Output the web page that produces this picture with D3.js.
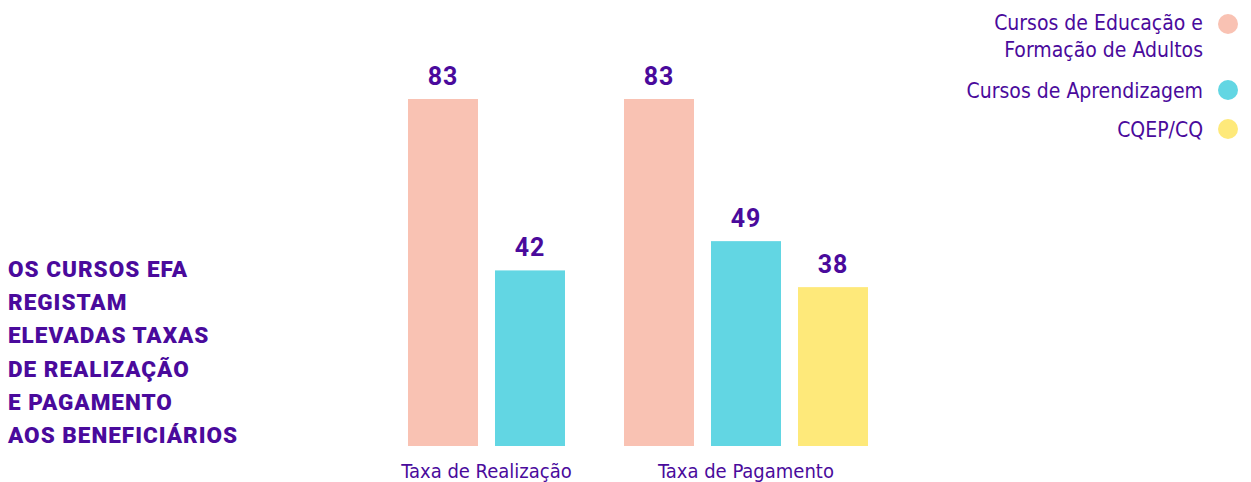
<!DOCTYPE html>
<html><head><meta charset="utf-8">
<script src="https://cdn.jsdelivr.net/npm/d3@7"></script>
<style>
body{margin:0;background:#fff;}
svg{display:block;}
</style></head>
<body>
<svg id="c" width="1251" height="482"></svg>
<script>
const groups = ["Taxa de Realização", "Taxa de Pagamento"];
const seriesNames = ["Cursos de Educação e Formação de Adultos", "Cursos de Aprendizagem", "CQEP/CQ"];
const legendLines = [["Cursos de Educação e", "Formação de Adultos"], ["Cursos de Aprendizagem"], ["CQEP/CQ"]];
const seriesColors = ["#f9c2b3", "#62d6e3", "#fee97a"];
const valuesRealizacao = [83, 42, null];
const valuesPagamento = [83, 49, 38];
const titleLines = ["OS CURSOS EFA", "REGISTAM", "ELEVADAS TAXAS", "DE REALIZAÇÃO", "E PAGAMENTO", "AOS BENEFICIÁRIOS"];

const purple = "#4a0a9c";
const font = "'Liberation Sans Narrow','DejaVu Sans Condensed','Roboto',sans-serif";
const svg = d3.select("#c");

const data = [valuesRealizacao, valuesPagamento];

const x0 = d3.scaleBand().domain(groups).range([408, 408 + 2 * 216]).paddingInner(0);
const x1 = d3.scaleBand().domain(seriesNames).range([0, 244]).paddingInner(17 / 87);
const y = d3.scaleLinear().domain([0, 83]).range([446, 99]);

groups.forEach((g, gi) => {
  const present = seriesNames.map((s, si) => ({s, si, v: data[gi][si]})).filter(d => d.v != null);
  const gEl = svg.append("g").attr("transform", `translate(${x0(g)},0)`);
  gEl.selectAll("rect").data(present).join("rect")
    .attr("x", d => x1(d.s)).attr("width", x1.bandwidth())
    .attr("y", d => y(d.v)).attr("height", d => y(0) - y(d.v))
    .attr("fill", d => seriesColors[d.si]);
  gEl.selectAll("text.val").data(present).join("text")
    .attr("class", "val")
    .attr("x", d => x1(d.s) + x1.bandwidth() / 2)
    .attr("y", d => y(d.v) - 14)
    .attr("text-anchor", "middle")
    .attr("font-family", "'Roboto','DejaVu Sans',sans-serif").attr("font-weight", "bold")
    .attr("font-size", 25).attr("letter-spacing", 1).attr("fill", purple)
    .text(d => d.v);
  const first = x1(present[0].s), last = x1(present[present.length - 1].s) + x1.bandwidth();
  gEl.append("text")
    .attr("x", (first + last) / 2).attr("y", 478)
    .attr("text-anchor", "middle").attr("font-family", font)
    .attr("font-size", 20).attr("fill", purple).text(g);
});

// title
const t = svg.append("text").attr("font-family", "'Roboto','DejaVu Sans',sans-serif")
  .attr("font-weight", 900).attr("font-size", 22.5).attr("letter-spacing", 1).attr("fill", purple);
titleLines.forEach((l, i) => t.append("tspan").attr("x", 8).attr("y", 277 + i * 33.2).text(l));

// legend
const legY = [[30, 57], [98], [137]];
const circY = [24, 90, 129];
legendLines.forEach((lines, i) => {
  lines.forEach((l, j) => svg.append("text").attr("x", 1203).attr("y", legY[i][j])
    .attr("text-anchor", "end").attr("font-family", font).attr("font-size", 21)
    .attr("fill", purple).text(l));
  svg.append("circle").attr("cx", 1228).attr("cy", circY[i]).attr("r", 10).attr("fill", seriesColors[i]);
});
</script>
</body></html>
